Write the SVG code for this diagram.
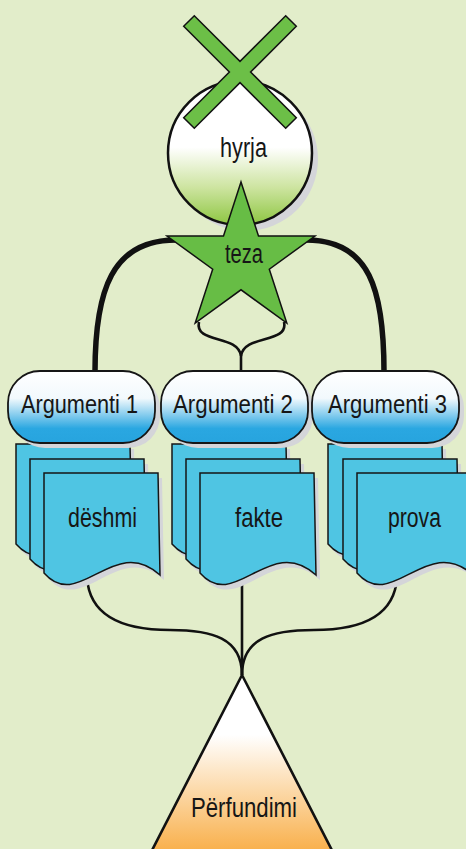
<svg xmlns="http://www.w3.org/2000/svg" xmlns:xlink="http://www.w3.org/1999/xlink" width="466" height="849" viewBox="0 0 466 849">
<defs>
<linearGradient id="gCircle" x1="0" y1="0" x2="0" y2="1">
<stop offset="0" stop-color="#ffffff"/><stop offset="0.46" stop-color="#ffffff"/><stop offset="0.74" stop-color="#cde4a0"/><stop offset="1" stop-color="#8dc641"/>
</linearGradient>
<linearGradient id="gArg" x1="0" y1="0" x2="0" y2="1">
<stop offset="0" stop-color="#ffffff"/><stop offset="0.38" stop-color="#f2f9fd"/><stop offset="0.8" stop-color="#2aa7e1"/><stop offset="1" stop-color="#27a4de"/>
</linearGradient>
<linearGradient id="gTri" x1="0" y1="0" x2="0" y2="1">
<stop offset="0" stop-color="#ffffff"/><stop offset="0.32" stop-color="#ffffff"/><stop offset="1" stop-color="#f8a83a"/>
</linearGradient>
<path id="doc" d="M0 0 H114 L116 102 C70 60 35 140 0 100 Z"/>
<rect id="pill" x="0" y="0" width="147" height="72" rx="32" ry="32"/>
<style>
.txt{font-family:"Liberation Sans",Arial,sans-serif;font-size:27px;fill:#161616;text-anchor:middle}
.sm{font-size:26px}
.sh{fill:#d4d5d9}
.doc{fill:#4fc5e3;stroke:#161616;stroke-width:1.5}
.arg{fill:url(#gArg);stroke:#161616;stroke-width:1.8}
.thick{fill:none;stroke:#111;stroke-width:5.5}
.thin{fill:none;stroke:#111;stroke-width:2.6}
</style>
</defs>
<rect x="0" y="0" width="466" height="849" fill="#e2edca"/>

<g id="connectors">
<path class="thick" d="M176 240 C112 240 95 290 95 372"/>
<path class="thick" d="M306 240 C370 240 384 290 384 372"/>
<path class="thin" d="M199 322 C194 344 238 334 241 356 V372"/>
<path class="thin" d="M284 322 C289 344 244 334 241 356"/>
<path class="thin" d="M87 578 C90 620 130 630 170 630 C212 630 242 638 242 675"/>
<path class="thin" d="M397 578 C394 620 354 630 314 630 C272 630 242 638 242 675"/>
<path class="thin" d="M242 578 V675"/>
</g>

<g id="conclusion">
<polygon points="242,675 146,862 338,862" fill="url(#gTri)" stroke="#111" stroke-width="2.6"/>
<text class="txt" x="244" y="817" textLength="106" lengthAdjust="spacingAndGlyphs">Përfundimi</text>
</g>

<g id="intro">
<circle cx="246" cy="159" r="72" class="sh"/>
<circle cx="240" cy="153" r="72" fill="url(#gCircle)" stroke="#111" stroke-width="2.5"/>
<text class="txt" x="243.5" y="157" textLength="47" lengthAdjust="spacingAndGlyphs">hyrja</text>
</g>

<g id="cross">
<polygon points="240,61.4 285.7,15.7 296.3,26.3 250.6,72 296.3,117.7 285.7,128.3 240,82.6 194.3,128.3 183.7,117.7 229.4,72 183.7,26.3 194.3,15.7" fill="#6cbf47" stroke="#111" stroke-width="1.5"/>
</g>

<g id="thesis">
<polygon points="241,182 258.5,236 315,236 269.3,269.2 286.8,323.1 241,289.8 195.2,323.1 212.7,269.2 167,236 223.5,236" fill="#67bd45" stroke="#111" stroke-width="1.5" stroke-linejoin="miter"/>
<text class="txt" x="244" y="263" textLength="38" lengthAdjust="spacingAndGlyphs">teza</text>
</g>

<g id="docs1">
<use href="#doc" class="sh" transform="translate(20,449)"/>
<use href="#doc" class="doc" transform="translate(16,444)"/>
<use href="#doc" class="sh" transform="translate(34,464)"/>
<use href="#doc" class="doc" transform="translate(30,459)"/>
<use href="#doc" class="sh" transform="translate(48,478)"/>
<use href="#doc" class="doc" transform="translate(44,473)"/>
<text class="txt" x="102.5" y="527" textLength="69" lengthAdjust="spacingAndGlyphs">dëshmi</text>
</g>

<g id="docs2">
<use href="#doc" class="sh" transform="translate(176,449)"/>
<use href="#doc" class="doc" transform="translate(172,444)"/>
<use href="#doc" class="sh" transform="translate(190,464)"/>
<use href="#doc" class="doc" transform="translate(186,459)"/>
<use href="#doc" class="sh" transform="translate(204,478)"/>
<use href="#doc" class="doc" transform="translate(200,473)"/>
<text class="txt" x="259" y="527" textLength="48" lengthAdjust="spacingAndGlyphs">fakte</text>
</g>

<g id="docs3">
<use href="#doc" class="sh" transform="translate(332,449)"/>
<use href="#doc" class="doc" transform="translate(328,444)"/>
<use href="#doc" class="sh" transform="translate(347,464)"/>
<use href="#doc" class="doc" transform="translate(343,459)"/>
<use href="#doc" class="sh" transform="translate(361,478)"/>
<use href="#doc" class="doc" transform="translate(357,473)"/>
<text class="txt" x="414.5" y="527" textLength="53" lengthAdjust="spacingAndGlyphs">prova</text>
</g>

<g id="arg1">
<use href="#pill" class="sh" transform="translate(13,376)"/>
<use href="#pill" class="arg" transform="translate(8,371)"/>
<text class="txt sm" x="79.5" y="413" textLength="117" lengthAdjust="spacingAndGlyphs">Argumenti 1</text>
</g>
<g id="arg2">
<use href="#pill" class="sh" transform="translate(166,376)"/>
<use href="#pill" class="arg" transform="translate(161,371)"/>
<text class="txt sm" x="233" y="413" textLength="120" lengthAdjust="spacingAndGlyphs">Argumenti 2</text>
</g>
<g id="arg3">
<use href="#pill" class="sh" transform="translate(317,376)"/>
<use href="#pill" class="arg" transform="translate(312,371)"/>
<text class="txt sm" x="387.5" y="413" textLength="119" lengthAdjust="spacingAndGlyphs">Argumenti 3</text>
</g>
</svg>
